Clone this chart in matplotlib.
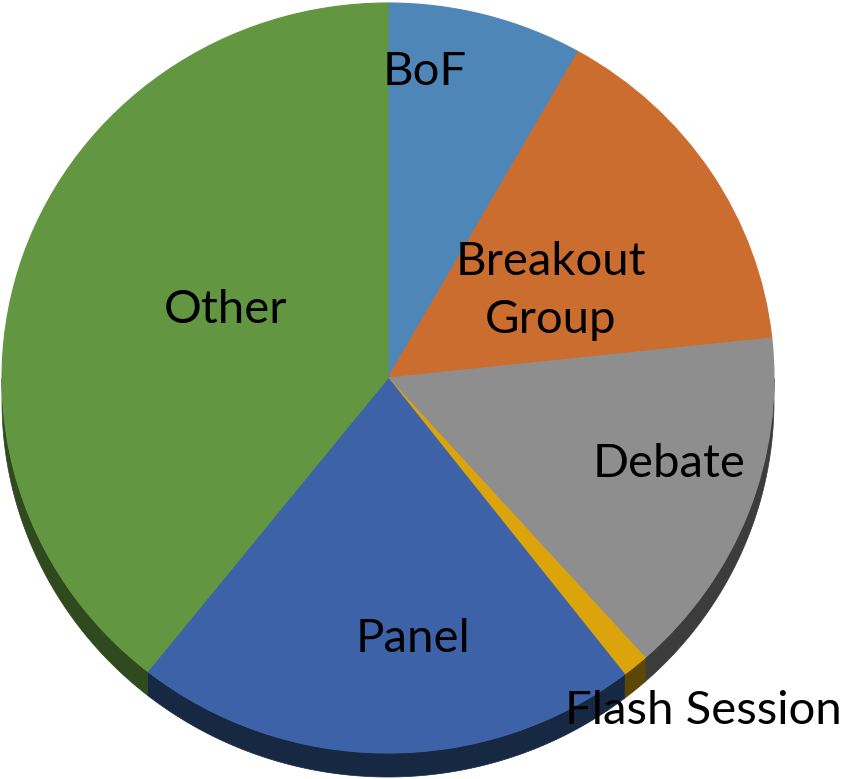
import numpy as np
import matplotlib.pyplot as plt

plt.rcParams['font.family'] = ['Lato', 'DejaVu Sans']

# session types, clockwise from 12 o'clock
labels = ['BoF', 'Breakout\nGroup', 'Debate', 'Flash Session', 'Panel', 'Other']
shares = [8.2, 15.1, 15.1, 1.1, 21.2, 39.3]

top_colors = ['#4F86B8', '#CB6D2F', '#8E8E8E', '#DBA40A', '#3E62A8', '#629640']
side_colors = ['#2A4766', '#6B3A18', '#3C3C3C', '#5E4604', '#172843', '#2E4A1E']

# label anchor (axes fraction, baseline of last line)
label_pos = [(0.502, 0.891), (0.651, 0.5725), (0.791, 0.388),
             (0.831, 0.071), (0.488, 0.163), (0.267, 0.585)]

depth = 0.064

fig = plt.figure(figsize=(8.46, 7.79), dpi=100)
ax = fig.add_axes([0, 0, 1, 1])

wedges, _ = ax.pie(shares, colors=top_colors, startangle=90, counterclock=False,
                   radius=1, wedgeprops=dict(linewidth=0.8, zorder=3))
for w, c in zip(wedges, top_colors):
    w.set_edgecolor(c)

# side of the 3d disc: front part of each wedge rim, pushed down by depth
for w, c in zip(wedges, side_colors):
    t = np.radians(np.linspace(w.theta1, w.theta2, 400))
    t = t[np.sin(t) <= 0]
    if len(t) < 2:
        continue
    xs = np.cos(t)
    ys = np.sin(t)
    px = np.concatenate([xs, xs[::-1]])
    py = np.concatenate([ys, ys[::-1] - depth])
    ax.fill(px, py, facecolor=c, edgecolor=c, linewidth=0.5, zorder=1)

for lab, (x, y) in zip(labels, label_pos):
    ax.text(x, y, lab, transform=ax.transAxes, ha='center', va='baseline',
            fontsize=34, color='black', linespacing=1.47, zorder=5)

ax.set_aspect('auto')
ax.set_xlim(-388 / 386, 458 / 386)
ax.set_ylim(-401 / 375, 378 / 375)
ax.axis('off')

fig.savefig('out.png', dpi=100)
